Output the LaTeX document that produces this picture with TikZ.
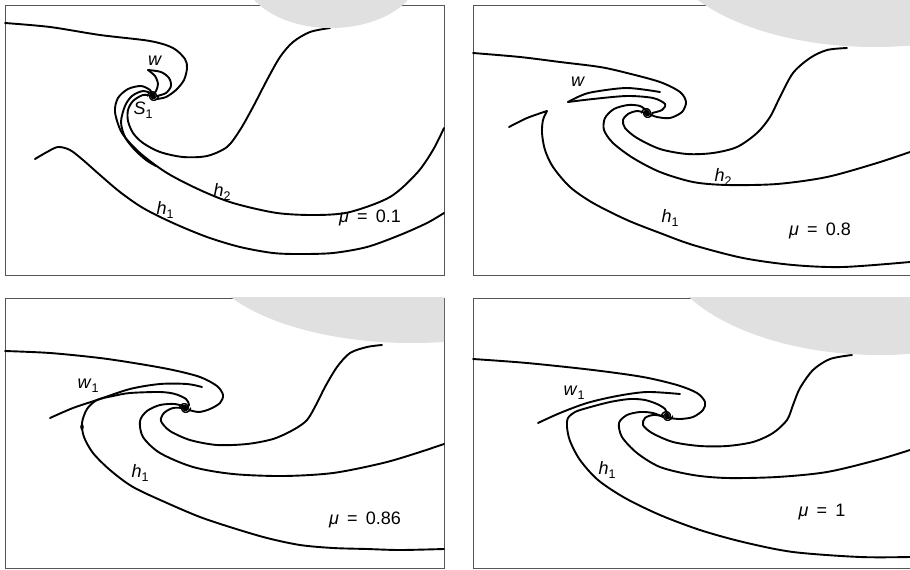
\documentclass[tikz,border=0pt]{standalone}
\usepackage{fontspec}
\setmainfont{Liberation Sans}
\definecolor{blobgray}{RGB}{224,224,224}
\definecolor{framegray}{RGB}{85,85,85}
% italic symbol with an upright subscript
\newcommand{\subl}[2]{\textit{#1}\raisebox{-0.45ex}{\fontsize{12.5}{13}\selectfont #2}}
% parameter value label
\newcommand{\muval}[1]{\textit{μ}\hspace{0.45em}=\hspace{0.45em}#1}
% tightly wound focus where the manifolds accumulate
\newcommand{\eddy}[1]{%
  \draw[curve,line width=1.4pt,shift={#1}] plot[domain=0:720,samples=70,smooth,variable=\t]
    ({5.5*exp(-\t/330)*cos(\t)},{5.5*exp(-\t/330)*sin(\t)});
  \draw[curve,line width=1.4pt,shift={#1}] plot[domain=0:720,samples=70,smooth,variable=\t]
    ({5.5*exp(-\t/330)*cos(\t+180)},{5.5*exp(-\t/330)*sin(\t+180)});}
\begin{document}
\begin{tikzpicture}[x=1pt,y=-1pt,
  curve/.style={line width=1.9pt,line cap=round,line join=round},
  panelframe/.style={draw=framegray,line width=0.9pt},
  blob/.style={fill=blobgray},
  lbl/.style={font=\fontsize{18}{20}\selectfont,inner sep=0pt}]
\useasboundingbox (0,0) rectangle (910,570);
\fill[white] (0,0) rectangle (910,570);

% ---------- panel frames ----------
\draw[panelframe] (5,5) rectangle (444.5,275);
\draw[panelframe] (912,5) -- (473.3,5) -- (473.3,275) -- (912,275);
\draw[panelframe] (5,298.3) rectangle (444.5,568);
\draw[panelframe] (912,298.3) -- (473.3,298.3) -- (473.3,568) -- (912,568);

% ---------- panel 1 : mu = 0.1 ----------
\draw[curve] plot[smooth] coordinates {(5,23) (50,27) (100,35) (150,41) (173,48) (185,59) (187,68) (184,80) (176,90) (166,97) (157,99)};
\draw[curve] plot[smooth] coordinates {(148,70) (161,72) (169,78) (171,86) (166,93) (157,96)};
\draw[curve] plot[smooth] coordinates {(148,70) (155,76) (158,84) (156,91) (153,95)};
\draw[curve] plot[smooth] coordinates {(444,128) (433,150) (417,173) (390,197) (350,212) (317,215) (277,213) (233,203) (200,190) (167,173) (140,153) (122,133) (115,112) (118,98) (128,89) (141,86) (150,90) (153,95)};
\draw[curve] plot[smooth] coordinates {(153,94) (143,91) (132,96) (125,106) (121,122) (125,137) (134,149) (146,160) (156,166)};
\draw[curve] plot[smooth] coordinates {(330,28) (310,32) (293,42) (280,57) (267,80) (253,107) (240,130) (227,147) (207,156) (183,157) (160,152) (143,143) (133,133) (128,121) (128,110) (133,101) (143,95) (152,96)};
\draw[curve] plot[smooth] coordinates {(35,159) (47,152) (58,147) (70,150) (83,160) (100,175) (120,192) (143,208) (173,223) (207,237) (240,247) (273,253) (300,254) (333,253) (367,247) (400,235) (427,223) (444,213)};
\eddy{(153,96)}

% ---------- panel 2 : mu = 0.8 ----------
\draw[curve] plot[smooth] coordinates {(473,53) (520,57) (560,62) (600,67) (627,73) (660,82) (680,92) (686,102) (682,112) (670,118) (657,117) (649,114)};
\draw[curve] plot[smooth] coordinates {(568,102) (580,96) (593,92) (627,88) (660,92)};
\draw[curve] plot[smooth] coordinates {(568,102) (593,99) (627,96) (653,98) (665,104) (662,110) (652,113)};
\draw[curve] plot[smooth] coordinates {(910,152) (877,163) (827,177) (777,184) (727,185) (693,182) (660,172) (633,158) (613,143) (604,130) (605,118) (614,109) (628,105) (640,106) (647,111)};
\draw[curve] plot[smooth] coordinates {(847,48) (827,50) (810,58) (793,73) (780,97) (770,117) (757,133) (737,147) (713,153) (687,154) (660,149) (637,138) (625,128) (623,120) (628,114) (637,111) (645,113)};
\draw[curve] plot[smooth] coordinates {(509,127) (527,118) (547,111)}
  -- plot[smooth] coordinates {(547,111) (543,120) (542,133) (545,150) (553,167) (570,187) (593,203) (627,220) (660,233) (693,245) (743,258) (793,265) (843,267) (910,262)};
\eddy{(647,113)}

% ---------- panel 3 : mu = 0.86 ----------
\draw[curve] plot[smooth] coordinates {(5,351) (50,353) (100,358) (140,364) (173,370) (200,377) (217,386) (223,395) (220,403) (210,409) (199,412) (189,410)};
\draw[curve] plot[smooth] coordinates {(50,418) (73,408) (97,400) (130,389) (160,384) (187,384) (202,387)};
\draw[curve] plot[smooth] coordinates {(444,549) (400,550) (367,549) (333,548) (300,545) (267,538) (233,528) (200,517) (167,503) (133,487) (110,470) (93,453) (84,437) (82,423) (87,409) (97,400) (113,396) (130,393) (160,392) (175,394) (186,399) (189,405) (186,409)};
\fill (82,427) ellipse [x radius=1.8, y radius=3];
\draw[curve] plot[smooth] coordinates {(444,444) (417,453) (383,463) (333,473) (283,476) (233,474) (193,467) (160,453) (143,437) (140,421) (147,411) (160,405) (175,404) (185,407)};
\draw[curve] plot[smooth] coordinates {(382,345) (367,347) (350,353) (337,367) (325,387) (317,403) (307,420) (293,430) (273,439) (247,444) (217,445) (190,440) (170,431) (161,421) (164,413) (173,408) (183,408)};
\eddy{(185,408)}

% ---------- panel 4 : mu = 1 ----------
\draw[curve] plot[smooth] coordinates {(473,359) (527,363) (593,370) (643,377) (677,385) (697,393) (705,402) (703,410) (693,417) (680,419) (670,418)};
\draw[curve] plot[smooth] coordinates {(538,423) (560,413) (587,403) (617,396) (647,392) (680,394)};
\draw[curve] plot[smooth] coordinates {(910,557) (860,557) (793,552) (743,542) (700,530) (660,515) (625,498) (598,480) (580,460) (570,441) (567,427) (568,418) (575,412) (587,408) (610,402) (630,399) (645,400) (657,404) (665,409) (667,415)};
\draw[curve] plot[smooth] coordinates {(910,450) (877,460) (827,472) (777,477) (727,478) (693,475) (660,467) (637,453) (622,437) (619,423) (627,415) (640,412) (653,413) (663,417)};
\draw[curve] plot[smooth] coordinates {(852,355) (830,359) (813,370) (800,388) (793,405) (787,420) (773,433) (753,442) (727,446) (700,446) (673,442) (652,433) (643,425) (645,418) (653,415) (663,416)};
\eddy{(667,416)}

% ---------- grey patches at the top of each panel ----------
\begin{scope}
  \clip (0,-10) rectangle (444,275);
  \fill[blob] (331,-27) ellipse [x radius=88, y radius=55];
\end{scope}
\begin{scope}
  \clip (460,-10) rectangle (915,275);
  \fill[blob] (875,-60) ellipse [x radius=214, y radius=107];
\end{scope}
\begin{scope}
  \clip (0,297.5) rectangle (444,568);
  \fill[blob] (412,250) ellipse [x radius=210, y radius=93];
\end{scope}
\begin{scope}
  \clip (460,297.5) rectangle (915,568);
  \fill[blob] (880,240) ellipse [x radius=220, y radius=115];
\end{scope}

% ---------- labels ----------
\node[lbl] (wA)  at (155,61)  {\textit{w}};
\node[lbl] (sA)  at (143,110) {\subl{S}{1}};
\node[lbl] (h2A) at (222,192) {\subl{h}{2}};
\node[lbl] (h1A) at (165,210) {\subl{h}{1}};
\node[lbl] (muA) at (370,218) {\muval{0.1}};

\node[lbl] (wB)  at (578,82)  {\textit{w}};
\node[lbl] (h2B) at (723,177) {\subl{h}{2}};
\node[lbl] (h1B) at (670,218) {\subl{h}{1}};
\node[lbl] (muB) at (820,231) {\muval{0.8}};

\node[lbl] (wC)  at (88,386)  {\subl{w}{1}};
\node[lbl] (h1C) at (140,473) {\subl{h}{1}};
\node[lbl] (muC) at (365,520) {\muval{0.86}};

\node[lbl] (wD)  at (574,393) {\subl{w}{1}};
\node[lbl] (h1D) at (607,470) {\subl{h}{1}};
\node[lbl] (muD) at (822,512) {\muval{1}};
\end{tikzpicture}
\end{document}
